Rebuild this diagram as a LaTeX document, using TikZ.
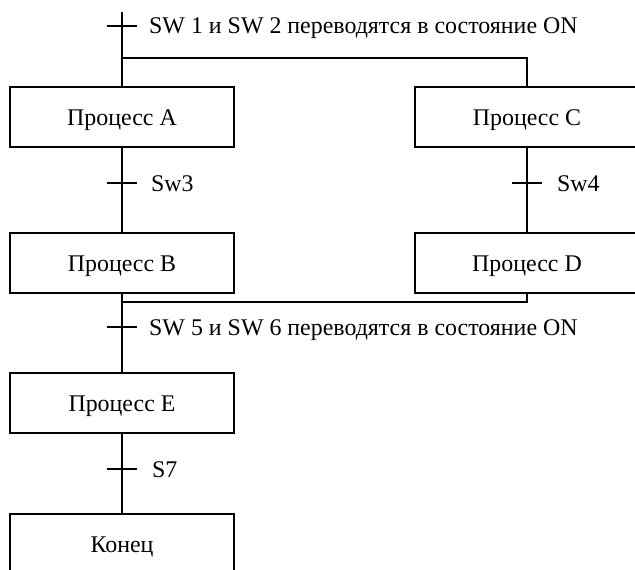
\documentclass[tikz,border=0pt]{standalone}
\usepackage{fontspec}
\setmainfont{Liberation Serif}
\begin{document}
\begin{tikzpicture}[x=1pt,y=-1pt,
  proc/.style={draw, line width=1.1pt, minimum width=224pt, minimum height=60pt, inner sep=0pt,
    text height=16pt, text depth=0pt, font=\fontsize{23.9}{28}\selectfont},
  lbl/.style={anchor=base west, inner sep=0pt, font=\fontsize{23.9}{28}\selectfont},
  ln/.style={line width=1.1pt}]
\useasboundingbox (0,0) rectangle (635,570);
\clip (0,0) rectangle (635,570);
\node[proc] (A) at (122,117) {Процесс A};
\node[proc] (C) at (527,117) {Процесс C};
\node[proc] (B) at (122,263) {Процесс B};
\node[proc] (D) at (527,263) {Процесс D};
\node[proc] (E) at (122,403) {Процесс E};
\node[proc] (K) at (122,544) {Конец};
\coordinate (top) at (122,12);
\coordinate (s1) at (122,58);
\coordinate (s2) at (527,58);
\coordinate (j1) at (122,302);
\coordinate (j2) at (527,302);
% top
\draw[ln] (top) -- (s1) -- (A.north);
\draw[ln] (s1) -- (s2) -- (C.north);
\draw[ln] (107,26) -- (137,26);
\node[lbl] (t1) at (149,34) {SW 1 и SW 2 переводятся в состояние ON};
% A-B
\draw[ln] (A.south) -- (B.north);
\draw[ln] (107,183) -- (137,183);
\node[lbl] (t2) at (151,191) {Sw3};
% C-D
\draw[ln] (C.south) -- (D.north);
\draw[ln] (512,183) -- (542,183);
\node[lbl] (t3) at (557,191) {Sw4};
% join
\draw[ln] (D.south) -- (j2) -- (j1);
\draw[ln] (B.south) -- (E.north);
\draw[ln] (107,327) -- (137,327);
\node[lbl] (t4) at (149,335) {SW 5 и SW 6 переводятся в состояние ON};
% E-K
\draw[ln] (E.south) -- (K.north);
\draw[ln] (107,469) -- (137,469);
\node[lbl] (t5) at (152,477) {S7};
\end{tikzpicture}
\end{document}
